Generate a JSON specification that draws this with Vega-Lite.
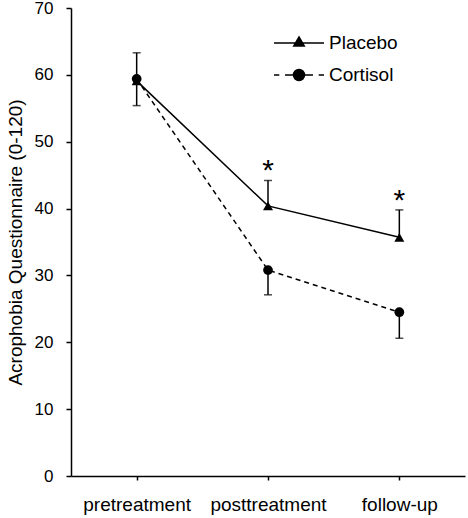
{
  "$schema": "https://vega.github.io/schema/vega-lite/v6.json",
  "width": 394,
  "height": 468,
  "autosize": {"type": "none"},
  "padding": {"left": 71, "top": 8, "right": 3, "bottom": 42},
  "background": "white",
  "config": {
    "view": {"stroke": null},
    "font": "Liberation Sans",
    "axis": {
      "domainColor": "black",
      "tickColor": "black",
      "labelColor": "black",
      "titleColor": "black",
      "grid": false,
      "domainWidth": 1.5,
      "tickWidth": 1.5
    }
  },
  "datasets": {
    "scores": [
      {"phase": "pretreatment", "group": "Placebo", "mean": 59.1, "err": 63.3},
      {"phase": "posttreatment", "group": "Placebo", "mean": 40.4, "err": 44.2},
      {"phase": "follow-up", "group": "Placebo", "mean": 35.7, "err": 39.8},
      {"phase": "pretreatment", "group": "Cortisol", "mean": 59.4, "err": 55.4},
      {"phase": "posttreatment", "group": "Cortisol", "mean": 30.8, "err": 27.1},
      {"phase": "follow-up", "group": "Cortisol", "mean": 24.5, "err": 20.6}
    ],
    "sig": [
      {"phase": "posttreatment", "top": 44.2, "label": "*"},
      {"phase": "follow-up", "top": 39.8, "label": "*"}
    ]
  },
  "data": {"name": "scores"},
  "encoding": {
    "x": {
      "field": "phase",
      "type": "nominal",
      "scale": {"type": "point", "padding": 0.5, "domain": ["pretreatment", "posttreatment", "follow-up"]},
      "axis": {
        "title": null,
        "labelAngle": 0,
        "labelFontSize": 19,
        "labelPadding": 15,
        "tickSize": 4
      }
    },
    "y": {
      "field": "mean",
      "type": "quantitative",
      "scale": {"domain": [0, 70], "nice": false},
      "axis": {
        "values": [0, 10, 20, 30, 40, 50, 60, 70],
        "title": "Acrophobia Questionnaire (0-120)",
        "titleFontSize": 19,
        "titleFontWeight": "normal",
        "titlePadding": 9,
        "labelFontSize": 17,
        "labelPadding": 13,
        "tickSize": 5
      }
    }
  },
  "layer": [
    {
      "mark": {"type": "point", "filled": true, "color": "black", "fill": "black", "stroke": "black", "strokeWidth": 1.5, "size": 100, "opacity": 0},
      "encoding": {
        "shape": {
          "field": "group",
          "type": "nominal",
          "scale": {
            "domain": ["Placebo", "Cortisol"],
            "range": [
              "M-1.667,0L1.667,0M0,-0.4L0.35,0.2L-0.35,0.2Z",
              "M-1.667,0L-1.313,0M-0.933,0L-0.3,0M0.3,0L0.933,0M1.313,0L1.667,0M0.367,0A0.367,0.367,0,1,1,-0.367,0A0.367,0.367,0,1,1,0.367,0Z"
            ]
          },
          "legend": {
            "title": null,
            "orient": "none",
            "legendX": 212,
            "legendY": 19,
            "padding": 0,
            "labelFont": "Liberation Sans",
            "labelFontSize": 19,
            "labelColor": "black",
            "labelOffset": 14,
            "symbolSize": 900,
            "rowPadding": 6,
            "symbolStrokeWidth": 1.5,
            "symbolOpacity": 1
          }
        }
      }
    },
    {
      "mark": {"type": "rule", "color": "black", "strokeWidth": 1.5},
      "encoding": {"y2": {"field": "err"}}
    },
    {
      "mark": {"type": "tick", "color": "black", "thickness": 1.5, "size": 8, "orient": "horizontal"},
      "encoding": {"y": {"field": "err", "type": "quantitative"}}
    },
    {
      "transform": [{"filter": "datum.group === 'Placebo'"}],
      "mark": {"type": "line", "color": "black", "strokeWidth": 1.5},
      "encoding": {}
    },
    {
      "transform": [{"filter": "datum.group === 'Cortisol'"}],
      "mark": {"type": "line", "color": "black", "strokeWidth": 1.5, "strokeDash": [5, 4]},
      "encoding": {}
    },
    {
      "transform": [{"filter": "datum.group === 'Placebo'"}],
      "mark": {"type": "point", "filled": true, "color": "black", "size": 100, "opacity": 1, "shape": "triangle-up"}
    },
    {
      "transform": [{"filter": "datum.group === 'Cortisol'"}],
      "mark": {"type": "point", "filled": true, "color": "black", "size": 95, "opacity": 1, "shape": "circle"}
    },
    {
      "data": {"name": "sig"},
      "mark": {"type": "text", "fontSize": 30, "baseline": "alphabetic", "align": "center", "dy": 0, "color": "black"},
      "encoding": {
        "y": {"field": "top", "type": "quantitative"},
        "text": {"field": "label"}
      }
    }
  ]
}
